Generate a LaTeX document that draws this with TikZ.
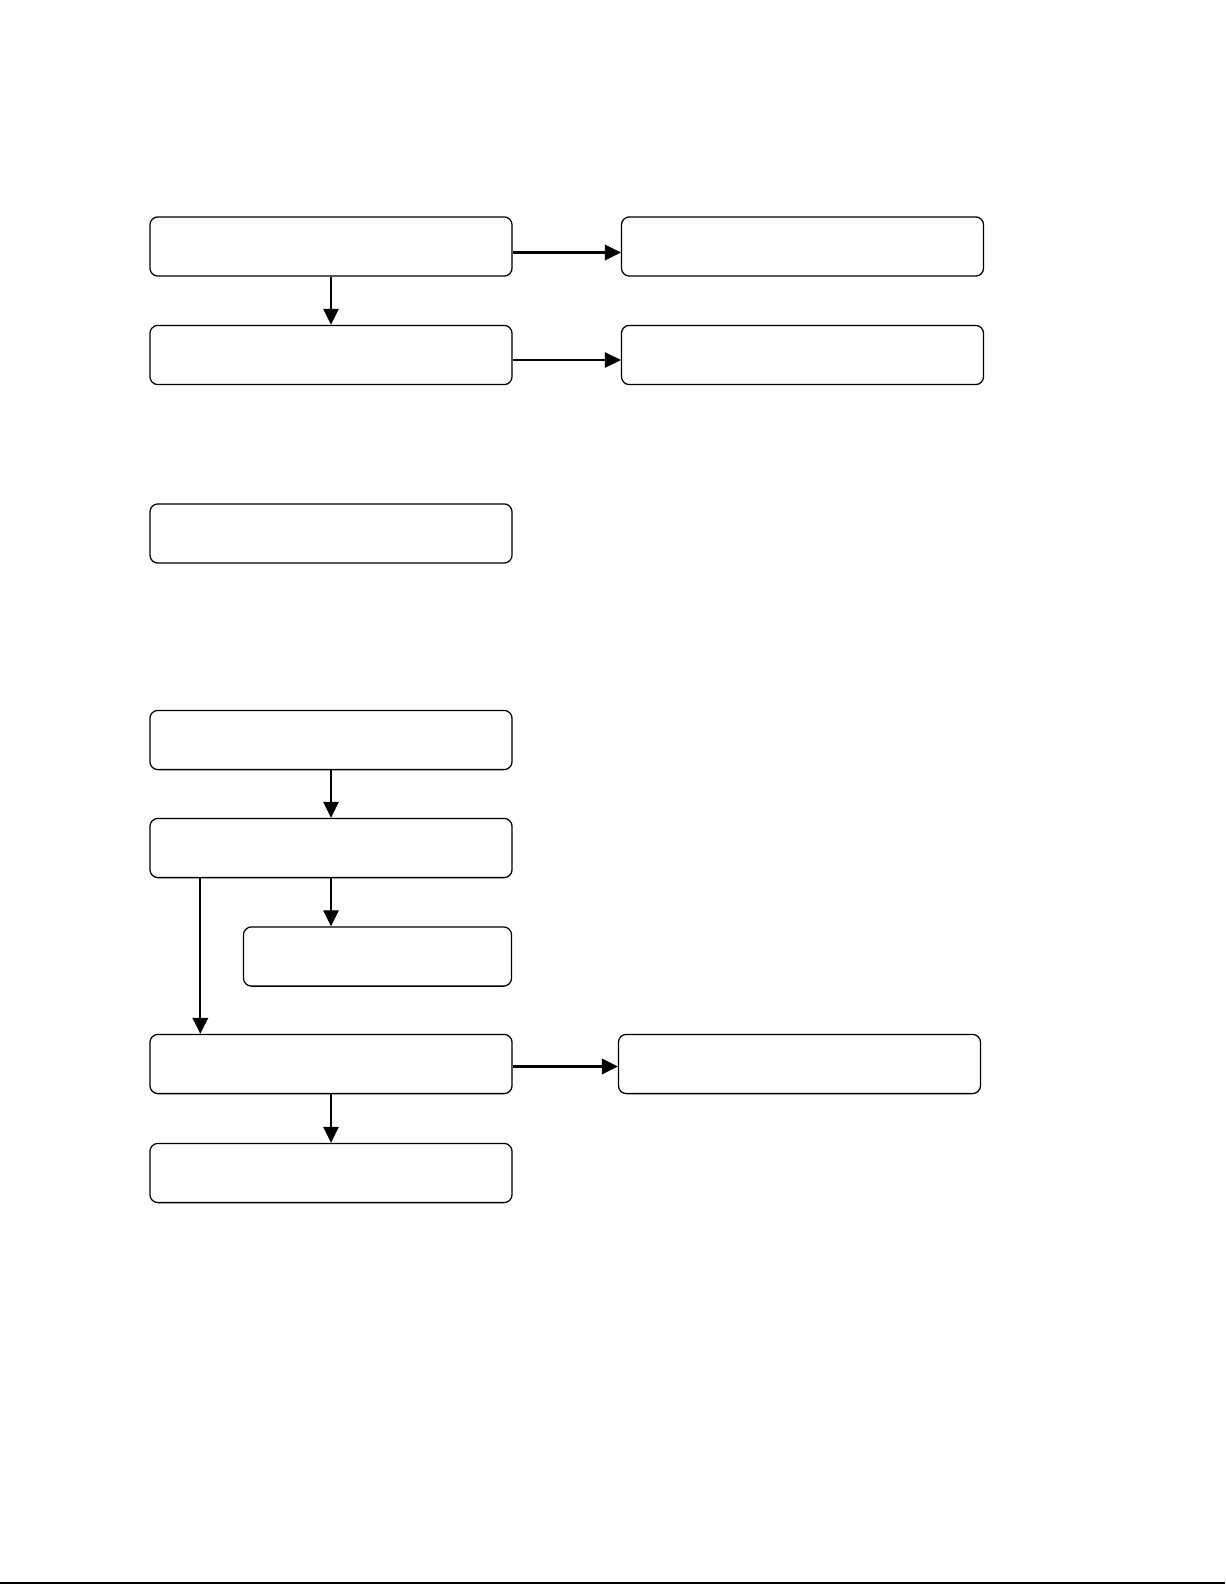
\documentclass[tikz,border=0pt]{standalone}
\usepackage{tikz}
\usetikzlibrary{arrows.meta, calc}

\begin{document}
\begin{tikzpicture}[x=0.025cm, y=-0.025cm,
    box/.style={draw, line width=0.9pt, rounded corners=0.2cm, minimum width=9.05cm, minimum height=1.48cm, inner sep=0pt},
    smallbox/.style={box, minimum width=6.7cm},
    arr/.style={-{Triangle[length=0.4cm, width=0.39cm]}, line width=0.75pt},
    thickarr/.style={arr, line width=1.5pt}]
            \path[use as bounding box] (0,0) rectangle (1225,1585);

            % first group
            \node[box] (top1) at (331,246.5) {};
            \node[box] (top2) at (802.5,246.5) {};
            \node[box] (mid1) at (331,355) {};
            \node[box] (mid2) at (802.5,355) {};
            \draw[thickarr] ($(top1.east)+(0,6)$) -- ($(top2.west)+(0,6)$);
            \draw[arr] (top1.south) -- (mid1.north);
            \draw[arr] ($(mid1.east)+(0,5)$) -- ($(mid2.west)+(0,5)$);

            % single box
            \node[box] (alone) at (331,533.5) {};

            % second group
            \node[box] (stepA) at (331,740) {};
            \node[box] (stepB) at (331,848) {};
            \node[smallbox] (side) at (377.5,956.5) {};
            \node[box] (stepC) at (331,1064) {};
            \node[box] (right) at (799.5,1064) {};
            \node[box] (stepD) at (331,1173) {};
            \coordinate (branch) at ($(stepB.south west)+(51,0)$);
            \draw[arr] (stepA.south) -- (stepB.north);
            \draw[arr] (stepB.south) -- (stepB.south |- side.north);
            \draw[thickarr] (branch) -- (branch |- stepC.north);
            \draw[thickarr] ($(stepC.east)+(0,2.5)$) -- ($(right.west)+(0,2.5)$);
            \draw[arr] (stepC.south) -- (stepD.north);

            \draw[line width=1.4pt] (0,1583) -- (1225,1583);
        \end{tikzpicture}
\end{document}
